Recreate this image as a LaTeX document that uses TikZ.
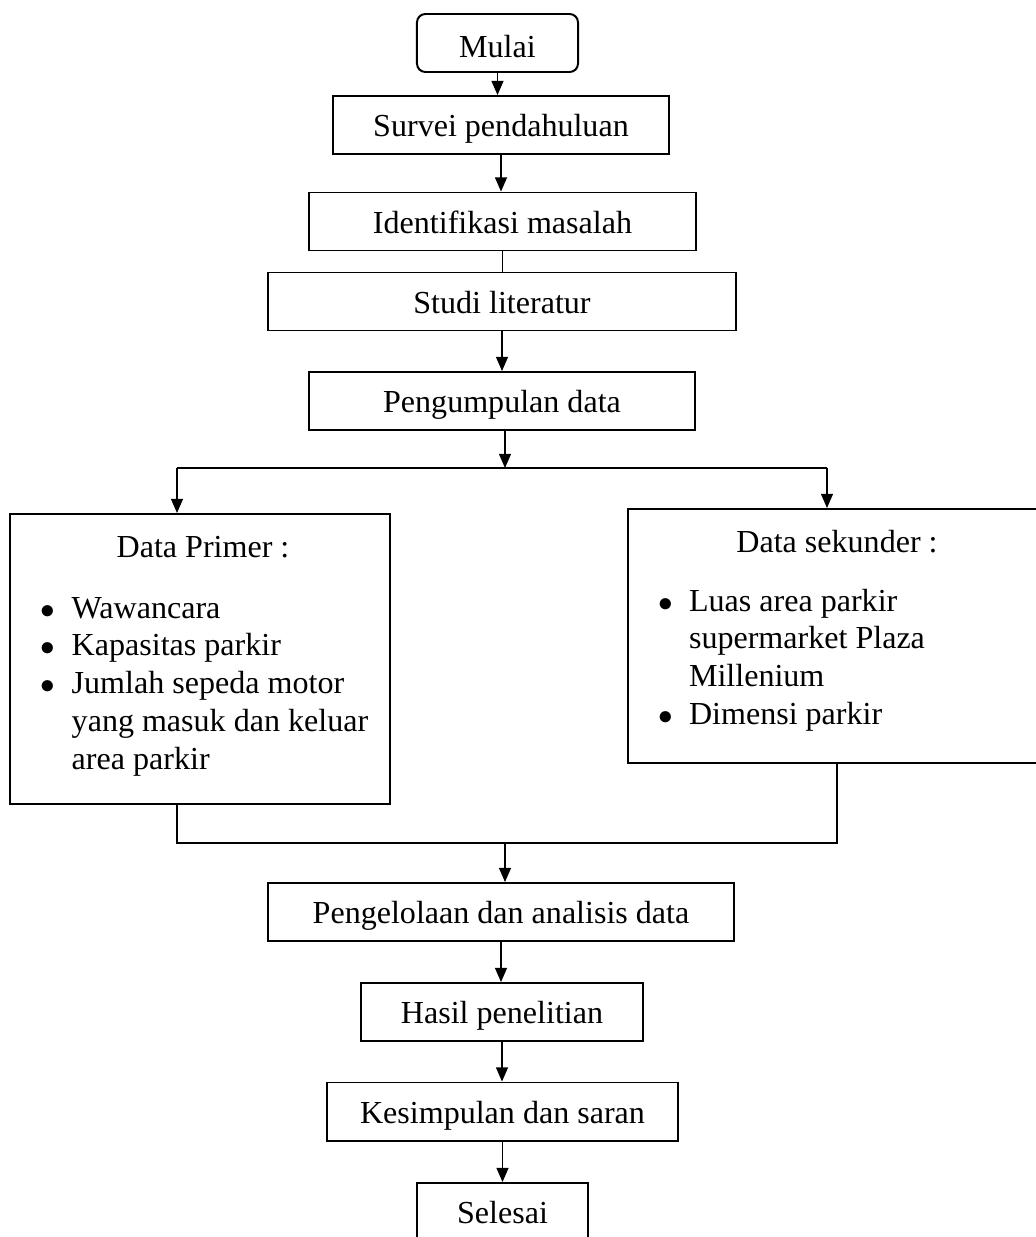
\documentclass[tikz,border=0pt]{standalone}
\usepackage{fontspec}
\setmainfont{Liberation Serif}
\usetikzlibrary{arrows.meta}
\newcommand{\titik}{$\bullet$}
\begin{document}
\begin{tikzpicture}[x=0.025cm, y=-0.025cm,
        font=\fontsize{22.8pt}{27pt}\selectfont,
        kotak/.style={draw, line width=1.4pt, inner sep=0pt, minimum height=1.45cm,
            text height=19pt, text depth=2pt},
        panah/.style={line width=0.8pt, -{Triangle[width=8.5pt,length=10pt]}},
        garis/.style={line width=0.8pt}]
    \useasboundingbox (0,0) rectangle (1036,1237);
    \node[kotak, rounded corners=6pt, minimum width=4.025cm, text height=21pt, text depth=0pt]
        (mulai) at (497.5,43) {Mulai};
    \node[kotak, minimum width=8.4cm] (survei) at (501,125) {Survei pendahuluan};
    \node[kotak, minimum width=9.675cm] (identifikasi) at (502.5,221.5) {Identifikasi masalah};
    \node[kotak, minimum width=11.7cm] (studi) at (502,301.5) {Studi literatur};
    \node[kotak, minimum width=9.65cm] (pengumpulan) at (502,401) {Pengumpulan data};
    \node[kotak, minimum width=9.5cm, minimum height=7.25cm] (primer) at (200,659) {};
    \node[anchor=base] (judulprimer) at (203,557) {Data Primer :};
    \node[anchor=base west, inner sep=0pt] (isiprimer) at (40,618) {%
        \begin{tabular}[t]{@{}l@{\hspace{12pt}}l@{}}
            \titik & Wawancara\\
            \titik & Kapasitas parkir\\
            \titik & Jumlah sepeda motor\\
                   & yang masuk dan keluar\\
                   & area parkir
        \end{tabular}};
    \node[kotak, minimum width=10.45cm, minimum height=6.35cm] (sekunder) at (837,636) {};
    \node[anchor=base] (judulsekunder) at (837,552) {Data sekunder :};
    \node[anchor=base west, inner sep=0pt] (isisekunder) at (658,611) {%
        \begin{tabular}[t]{@{}l@{\hspace{11.5pt}}l@{}}
            \titik & Luas area parkir\\
                   & supermarket Plaza\\
                   & Millenium\\
            \titik & Dimensi parkir
        \end{tabular}};
    \node[kotak, minimum width=11.65cm] (pengelolaan) at (501,912) {Pengelolaan dan analisis data};
    \node[kotak, minimum width=7.05cm] (hasil) at (502,1012) {Hasil penelitian};
    \node[kotak, minimum width=8.775cm] (kesimpulan) at (502.5,1111.5) {Kesimpulan dan saran};
    \node[kotak, minimum width=4.275cm] (selesai) at (502.5,1212) {Selesai};

    \foreach \a/\b in {mulai/survei, survei/identifikasi, studi/pengumpulan,
            pengelolaan/hasil, hasil/kesimpulan, kesimpulan/selesai}{
        \draw[panah] (\a.south) -- (\a.south |- \b.north);
    };
    \draw[garis] (identifikasi.south) -- (identifikasi.south |- studi.north);

    \coordinate (cabang) at (505,468);
    \coordinate (cabangkiri) at (177,468);
    \coordinate (cabangkanan) at (827,468);
    \draw[panah] (pengumpulan.south -| cabang) -- (cabang);
    \draw[garis] (cabangkiri) -- (cabangkanan);
    \draw[panah] (cabangkiri) -- (cabangkiri |- primer.north);
    \draw[panah] (cabangkanan) -- (cabangkanan |- sekunder.north);

    \coordinate (gabung) at (505,843);
    \coordinate (gabungkiri) at (177,843);
    \coordinate (gabungkanan) at (837,843);
    \draw[garis] (gabungkiri |- primer.south) -- (gabungkiri) -- (gabungkanan)
        -- (gabungkanan |- sekunder.south);
    \draw[panah] (gabung) -- (gabung |- pengelolaan.north);
\end{tikzpicture}
\end{document}
